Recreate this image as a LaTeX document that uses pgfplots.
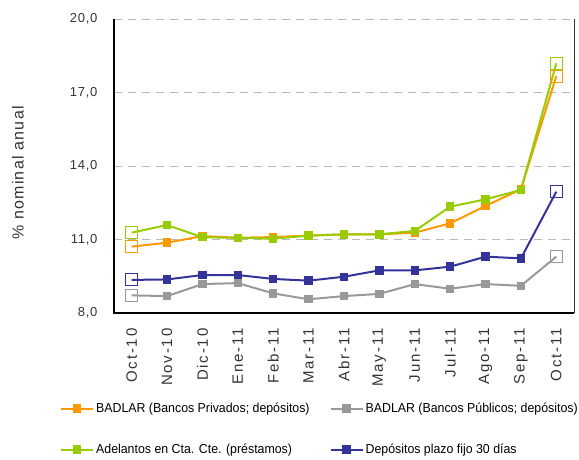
\documentclass[border=0pt]{standalone}
\usepackage{fontspec}
\setmainfont{Liberation Sans}
\newfontfamily\legfont[FakeStretch=0.95]{Liberation Sans}
\newfontfamily\tickfont[LetterSpace=6]{Liberation Sans}
\newfontfamily\xtickfont[LetterSpace=12]{Liberation Sans}
\newfontfamily\labfont[LetterSpace=8]{Liberation Sans}
\usepackage{pgfplots}
\pgfplotsset{compat=1.18}
\definecolor{cOr}{HTML}{FF9900}
\definecolor{cGr}{HTML}{999999}
\definecolor{cGn}{HTML}{99CC00}
\definecolor{cBl}{HTML}{333399}
\begin{document}
\begin{tikzpicture}[x=1pt,y=1pt]
\path[use as bounding box] (-114,-147) rectangle (465,313);
\begin{axis}[
  at={(0,0)}, anchor=south west,
  scale only axis, width=460pt, height=294pt,
  xmin=-0.5, xmax=12.5, ymin=8, ymax=20,
  xtick={0,...,12},
  xticklabels={Oct-10,Nov-10,Dic-10,Ene-11,Feb-11,Mar-11,Abr-11,May-11,Jun-11,Jul-11,Ago-11,Sep-11,Oct-11},
  ytick={8,11,14,17,20},
  /pgf/number format/fixed, /pgf/number format/fixed zerofill, /pgf/number format/precision=1, /pgf/number format/use comma,
  /pgf/number format/assume math mode=true,
  yticklabel style={font=\tickfont\fontsize{13}{14}\selectfont, text=black!80, xshift=-13pt},
  xticklabel style={font=\xtickfont\fontsize{15}{16}\selectfont, text=black!80, yshift=-12pt, rotate=90, anchor=east},
  major tick length=0pt,
  axis line style={draw=none},
  ymajorgrids, grid style={dashed, gray!55, line width=0.8pt, dash pattern=on 8pt off 6pt},
  ylabel={\% nominal anual},
  ylabel style={font=\labfont\fontsize{16}{17}\selectfont, text=black!80, at={(axis description cs:-0.209,0.476)}, anchor=center},
  legend columns=2,
  legend cell align=left,
  legend style={at={(axis description cs:-0.124,-0.292)}, anchor=north west, draw=none, font=\legfont\fontsize{13}{14}\selectfont,
    /tikz/every even column/.append style={column sep=18pt}, row sep=26pt},
  legend image code/.code={\draw[mark indices={2}] plot coordinates {(0pt,0pt) (16pt,0pt) (32pt,0pt)};},
  every axis plot/.append style={line width=2pt, mark=square*, mark size=3.2pt, mark options={solid}},
  clip=false,
]
\addplot[cOr, mark indices={2,...,12}] coordinates {(0,10.71)(1,10.87)(2,11.14)(3,11.07)(4,11.10)(5,11.16)(6,11.21)(7,11.21)(8,11.28)(9,11.66)(10,12.37)(11,13.05)(12,17.67)};
\addlegendentry{BADLAR (Bancos Privados; depósitos)}
\addplot[cGr, mark indices={2,...,12}] coordinates {(0,8.72)(1,8.69)(2,9.18)(3,9.22)(4,8.80)(5,8.56)(6,8.69)(7,8.78)(8,9.18)(9,8.99)(10,9.18)(11,9.11)(12,10.30)};
\addlegendentry{BADLAR (Bancos Públicos; depósitos)}
\addplot[cGn, mark indices={2,...,12}] coordinates {(0,11.28)(1,11.59)(2,11.09)(3,11.07)(4,11.03)(5,11.16)(6,11.21)(7,11.21)(8,11.35)(9,12.34)(10,12.64)(11,13.02)(12,18.19)};
\addlegendentry{Adelantos en Cta. Cte. (préstamos)}
\addplot[cBl, mark indices={2,...,12}] coordinates {(0,9.35)(1,9.37)(2,9.55)(3,9.55)(4,9.39)(5,9.32)(6,9.48)(7,9.74)(8,9.74)(9,9.89)(10,10.30)(11,10.23)(12,12.95)};
\addlegendentry{Depósitos plazo fijo 30 días}
\addplot[forget plot, only marks, mark=square, mark size=6pt, line width=1pt, cOr] coordinates {(0,10.71)(12,17.67)};
\addplot[forget plot, only marks, mark=square, mark size=6pt, line width=1pt, cGr] coordinates {(0,8.72)(12,10.30)};
\addplot[forget plot, only marks, mark=square, mark size=6pt, line width=1pt, cGn] coordinates {(0,11.28)(12,18.19)};
\addplot[forget plot, only marks, mark=square, mark size=6pt, line width=1pt, cBl] coordinates {(0,9.35)(12,12.95)};
\draw[black, line width=1.5pt] (rel axis cs:0,1) -- (rel axis cs:0,0) -- (rel axis cs:1,0);
\draw[black!80, line width=0.8pt] (rel axis cs:1,0) -- (rel axis cs:1,1);
\end{axis}
\end{tikzpicture}
\end{document}
